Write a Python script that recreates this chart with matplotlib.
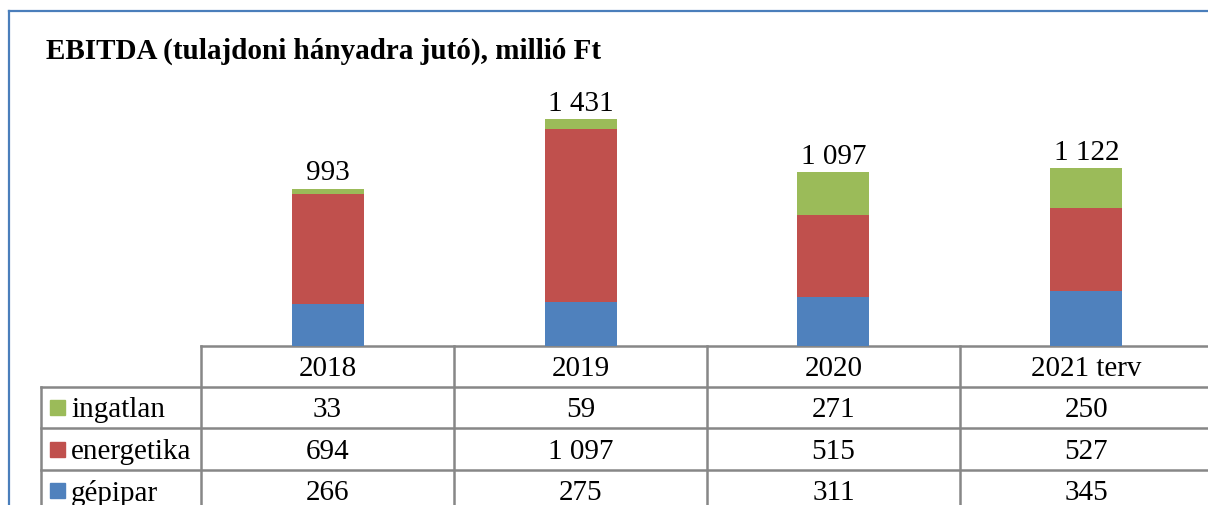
import matplotlib.pyplot as plt
from matplotlib.lines import Line2D
from matplotlib.patches import Rectangle

# --- data ---
years = ["2018", "2019", "2020", "2021 terv"]
series_names = ["ingatlan", "energetika", "gépipar"]
gepipar = [266, 275, 311, 345]
energetika = [694, 1097, 515, 527]
ingatlan = [33, 59, 271, 250]

C_BLUE = "#4f81bd"
C_RED = "#c0504d"
C_GREEN = "#9bbb59"
C_BORDER = "#4a7ebb"
C_GRID = "#878787"

plt.rcParams['font.family'] = ['Liberation Serif', 'DejaVu Serif']
FS = 21

W, H = 1208, 506


def fmt(v):
    return f"{v:,}".replace(",", " ")


fig = plt.figure(figsize=(W / 100, H / 100), dpi=100)

# full-figure pixel canvas for frame + table
bg = fig.add_axes([0, 0, 1, 1])
bg.set_xlim(0, W)
bg.set_ylim(H, 0)
bg.axis("off")

# outer chart border (left + top visible)
bg.add_line(Line2D([9, 9], [12, H], color=C_BORDER, lw=1.6))
bg.add_line(Line2D([9, W], [12, 12], color=C_BORDER, lw=1.6))

bg.text(46, 51, "EBITDA (tulajdoni hányadra jutó), millió Ft", fontsize=FS,
        fontweight="bold", ha="left", va="center")

# --- bar axes ---
base_y = 347
px_per_unit = 0.1585
col_w = 253
left_x = 201
top_y = 20
ax = fig.add_axes([left_x / W, (H - base_y) / H, 4 * col_w / W, (base_y - top_y) / H])
ax.set_xlim(-0.5, 3.5)
ax.set_ylim(0, (base_y - top_y) / px_per_unit)
ax.axis("off")
ax.patch.set_alpha(0)

x = range(len(years))
bw = 72 / col_w
bottom2 = [a + b for a, b in zip(gepipar, energetika)]
totals = [a + b for a, b in zip(bottom2, ingatlan)]
ax.bar(x, gepipar, bw, color=C_BLUE)
ax.bar(x, energetika, bw, bottom=gepipar, color=C_RED)
ax.bar(x, ingatlan, bw, bottom=bottom2, color=C_GREEN)
for xi, t in zip(x, totals):
    ax.annotate(fmt(t), (xi, t), xytext=(0, 2.5), textcoords="offset points",
                ha="center", va="bottom", fontsize=FS)

# --- data table ---
rows_y = [347, 388, 429, 471, 512]
cols_x = [41, 201, 454, 707, 960, 1213]
lw = 1.8
bg.add_line(Line2D([201, W], [347, 347], color=C_GRID, lw=lw))
for y in rows_y[1:]:
    bg.add_line(Line2D([41, W], [y, y], color=C_GRID, lw=lw))
bg.add_line(Line2D([41, 41], [388, H], color=C_GRID, lw=lw))
for cx in cols_x[1:]:
    bg.add_line(Line2D([cx, cx], [347, H], color=C_GRID, lw=lw))

centers = [(cols_x[i] + cols_x[i + 1]) / 2 for i in range(1, 5)]
for cx, yr in zip(centers, years):
    bg.text(cx, (rows_y[0] + rows_y[1]) / 2 + 2, yr, fontsize=FS, ha="center", va="center")

table_vals = [ingatlan, energetika, gepipar]
colors = [C_GREEN, C_RED, C_BLUE]
for r, (name, vals, c) in enumerate(zip(series_names, table_vals, colors)):
    yc = (rows_y[r + 1] + rows_y[r + 2]) / 2
    bg.add_patch(Rectangle((50, yc - 7.5), 15, 15, color=c))
    bg.text(71, yc + 2, name, fontsize=FS, ha="left", va="center")
    for cx, v in zip(centers, vals):
        bg.text(cx, yc + 2, fmt(v), fontsize=FS, ha="center", va="center")

fig.savefig("out.png", dpi=100)
